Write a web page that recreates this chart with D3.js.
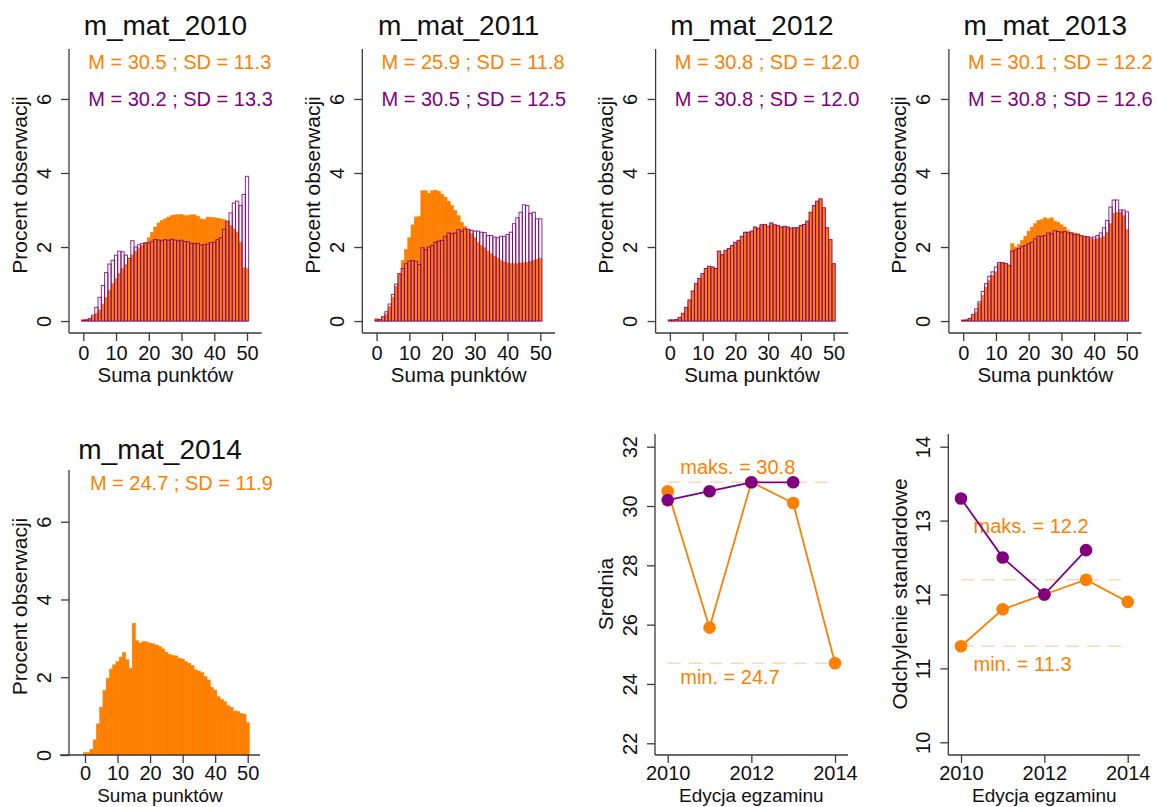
<!DOCTYPE html>
<html>
<head>
<meta charset="utf-8">
<script src="https://cdn.jsdelivr.net/npm/d3@7"></script>
<style>
  body { margin: 0; background: #ffffff; }
  svg text { font-family: "Liberation Sans", Arial, Helvetica, sans-serif; }
</style>
</head>
<body>
<svg id="chart" width="1158" height="807"></svg>
<script>
// ---- data -------------------------------------------------------------
// score bins 0..50 (Suma punktów)
const points = d3.range(0, 51);

// percent of observations per score
const orange2010 = [0.04,0.04,0.07,0.13,0.21,0.30,0.46,0.64,0.83,1.01,1.15,
  1.28,1.42,1.53,1.66,1.79,1.89,1.98,2.04,2.13,2.25,
  2.40,2.54,2.65,2.72,2.76,2.81,2.85,2.87,2.87,2.88,
  2.85,2.85,2.87,2.87,2.83,2.76,2.74,2.81,2.80,2.79,
  2.78,2.76,2.74,2.69,2.58,2.49,2.40,2.13,1.44,1.42];
const purple2010 = [0.02,0.03,0.06,0.16,0.37,0.64,0.96,1.31,1.54,1.64,1.78,
  1.89,1.87,1.78,1.69,2.17,2.00,2.06,2.09,2.11,2.11,
  2.15,2.20,2.19,2.17,2.20,2.18,2.21,2.19,2.17,2.18,
  2.15,2.14,2.10,2.09,2.10,2.05,2.07,2.08,2.12,2.13,
  2.20,2.25,2.48,2.70,2.92,3.19,3.24,3.12,3.42,3.91];
const orange2011 = [0.07,0.04,0.10,0.19,0.39,0.65,0.94,1.28,1.64,1.93,2.25,
  2.60,2.81,2.83,3.52,3.52,3.45,3.52,3.54,3.51,3.43,
  3.35,3.24,3.12,2.99,2.85,2.67,2.56,2.47,2.36,2.25,
  2.13,2.04,1.98,1.89,1.82,1.75,1.70,1.64,1.60,1.57,
  1.55,1.55,1.55,1.57,1.58,1.59,1.61,1.64,1.67,1.70];
const purple2011 = [0.03,0.04,0.12,0.25,0.46,0.72,1.00,1.28,1.42,1.55,1.62,
  1.64,1.61,1.53,1.98,1.93,2.00,2.04,2.13,2.16,2.18,
  2.29,2.38,2.36,2.38,2.47,2.43,2.49,2.48,2.45,2.43,
  2.43,2.40,2.39,2.31,2.31,2.27,2.25,2.29,2.29,2.34,
  2.40,2.63,2.79,2.94,3.14,3.12,2.91,2.94,2.76,2.76];
const orange2012 = [0.03,0.03,0.04,0.10,0.21,0.37,0.57,0.81,1.01,1.15,1.28,
  1.42,1.48,1.46,1.42,1.89,1.79,1.91,1.96,2.04,2.13,
  2.18,2.29,2.40,2.40,2.43,2.54,2.51,2.60,2.61,2.56,
  2.65,2.60,2.58,2.54,2.56,2.54,2.51,2.52,2.52,2.58,
  2.61,2.70,2.94,3.12,3.24,3.30,3.06,2.52,2.20,1.55];
const purple2012 = [0.03,0.03,0.04,0.10,0.21,0.37,0.57,0.81,1.01,1.15,1.28,
  1.42,1.48,1.46,1.42,1.89,1.79,1.91,1.96,2.04,2.13,
  2.18,2.29,2.40,2.40,2.43,2.54,2.51,2.60,2.61,2.56,
  2.65,2.60,2.58,2.54,2.56,2.54,2.51,2.52,2.52,2.58,
  2.61,2.70,2.94,3.12,3.24,3.30,3.06,2.52,2.20,1.55];
const orange2013 = [0.03,0.03,0.07,0.16,0.25,0.48,0.70,0.92,1.10,1.24,1.33,
  1.55,1.57,1.55,1.51,2.09,2.00,2.07,2.18,2.29,2.43,
  2.54,2.63,2.72,2.74,2.79,2.76,2.79,2.70,2.67,2.60,
  2.54,2.45,2.40,2.38,2.36,2.31,2.29,2.27,2.22,2.21,
  2.22,2.25,2.29,2.40,2.63,2.91,2.94,2.94,2.85,2.47];
const purple2013 = [0.02,0.03,0.07,0.18,0.33,0.52,0.80,1.01,1.21,1.33,1.46,
  1.58,1.58,1.56,1.51,1.89,1.92,1.96,2.01,2.04,2.09,
  2.13,2.22,2.29,2.29,2.31,2.38,2.36,2.44,2.42,2.40,
  2.42,2.38,2.38,2.34,2.34,2.31,2.29,2.28,2.25,2.27,
  2.31,2.38,2.52,2.72,3.08,3.27,3.27,3.00,3.00,2.95];
const orange2014 = [0.06,0.06,0.15,0.39,0.80,1.23,1.66,1.97,2.21,2.32,2.40,
  2.52,2.64,2.45,2.23,3.39,2.94,2.88,2.92,2.91,2.88,
  2.86,2.83,2.79,2.73,2.64,2.59,2.56,2.55,2.49,2.47,
  2.40,2.36,2.30,2.19,2.16,2.12,2.02,1.93,1.74,1.67,
  1.50,1.43,1.37,1.27,1.23,1.13,1.12,1.07,1.05,0.83];

// yearly summaries
const years = [2010, 2011, 2012, 2013, 2014];
const meanOrange = [30.5, 25.9, 30.8, 30.1, 24.7];
const meanPurple = [30.2, 30.5, 30.8, 30.8];
const sdOrange = [11.3, 11.8, 12.0, 12.2, 11.9];
const sdPurple = [13.3, 12.5, 12.0, 12.6];

// tick values
const histTicksX = [0, 10, 20, 30, 40, 50];
const histTicksY = [0, 2, 4, 6];
const meanTicksY = [22, 24, 26, 28, 30, 32];
const sdTicksY = [10, 11, 12, 13, 14];
const yearTicks = [2010, 2012, 2014];

// ---- drawing ----------------------------------------------------------
const ORANGE = "#ff7f00", PURPLE = "#800080", AXIS = "#3a3a3a", LIGHT = "#ffd8b0", INK = "#111111";
const TICK_PX = "20px", TITLE_PX = "20.5px", BOTTOM_TITLE_PX = "19px", YTITLE_PX = "21px",
      HEAD_PX = "28px", NOTE_PX = "20px";
const svg = d3.select("#chart");
const fmt = d3.format(".1f");
const fmtInt = d3.format("d");

function styleAxis(g) {
  g.attr("font-family", null).attr("font-size", null);
  g.select(".domain").remove();
  g.selectAll(".tick line").attr("stroke", AXIS).attr("stroke-width", 1.3);
  g.selectAll(".tick text").attr("fill", INK).style("font-size", TICK_PX);
}
function rotateYLabels(g) {
  g.selectAll(".tick text")
    .attr("transform", "rotate(-90)")
    .attr("x", 0).attr("y", -18.5).attr("dy", 0)
    .attr("text-anchor", "middle");
}
function axisLines(g, L) {
  g.append("line").attr("x1", L.axisX).attr("x2", L.axisX).attr("y1", L.yTop).attr("y2", L.xAxisY)
    .attr("stroke", AXIS).attr("stroke-width", 1.3);
  g.append("line").attr("x1", L.xLineLeft).attr("x2", L.xLineRight).attr("y1", L.xAxisY).attr("y2", L.xAxisY)
    .attr("stroke", AXIS).attr("stroke-width", 1.3);
}
function rotatedLabel(g, text, x, y) {
  g.append("text").attr("transform", `translate(${x},${y}) rotate(-90)`)
    .attr("text-anchor", "middle").attr("fill", INK).style("font-size", YTITLE_PX).text(text);
}

function histPanel(p) {
  const L = p.layout;
  const x = d3.scaleLinear().domain([0, 50]).range([L.x0, L.x50]);
  const y = d3.scaleLinear().domain(L.yDomain).range([L.xAxisY, L.yTop]);
  const g = svg.append("g");

  const barX = (d, i) => x(points[i] - 0.5);
  const barW = (d, i) => x(points[i] + 0.5) - x(points[i] - 0.5);

  g.append("g").selectAll("rect").data(p.orange).join("rect")
    .attr("x", barX).attr("width", barW)
    .attr("y", d => y(d)).attr("height", d => y(0) - y(d))
    .attr("fill", ORANGE).attr("stroke", ORANGE).attr("stroke-width", 0.5);

  if (p.purple) {
    g.append("g").selectAll("rect").data(p.purple).join("rect")
      .attr("x", barX).attr("width", barW)
      .attr("y", d => y(d)).attr("height", d => y(0) - y(d))
      .attr("fill", "none").attr("stroke", PURPLE).attr("stroke-width", 1).attr("stroke-opacity", 0.85);
  }

  axisLines(g, L);
  const ax = g.append("g").attr("transform", `translate(0,${L.xAxisY})`)
    .call(d3.axisBottom(x).tickValues(histTicksX).tickSize(8));
  styleAxis(ax);
  ax.selectAll(".tick text").attr("y", L.tickLabelY).attr("dy", 0);

  const ay = g.append("g").attr("transform", `translate(${L.axisX},0)`)
    .call(d3.axisLeft(y).tickValues(histTicksY).tickSize(8));
  styleAxis(ay);
  rotateYLabels(ay);

  const cx = (L.xLineLeft + L.xLineRight) / 2;
  g.append("text").attr("x", cx).attr("y", L.titleY).attr("text-anchor", "middle")
    .attr("fill", INK).style("font-size", HEAD_PX).text(p.title);
  g.append("text").attr("x", cx).attr("y", L.xAxisY + L.xTitleDy).attr("text-anchor", "middle")
    .attr("fill", INK).style("font-size", L.xTitlePx).text("Suma punktów");
  rotatedLabel(g, "Procent obserwacji", L.axisX - 42.5, (L.yTop + L.xAxisY) / 2 - 6);

  g.append("text").attr("x", x(1.5)).attr("y", y(7) + 7)
    .attr("fill", ORANGE).style("font-size", NOTE_PX)
    .text(`M = ${fmt(p.mO)} ; SD = ${fmt(p.sO)}`);
  if (p.purple) {
    g.append("text").attr("x", x(1.5)).attr("y", y(6) + 7)
      .attr("fill", PURPLE).style("font-size", NOTE_PX)
      .text(`M = ${fmt(p.mP)} ; SD = ${fmt(p.sP)}`);
  }
}

const colStep = 293.3;
const histOrange = [orange2010, orange2011, orange2012, orange2013];
const histPurple = [purple2010, purple2011, purple2012, purple2013];
histOrange.forEach((arr, c) => {
  const dx = c * colStep;
  histPanel({
    title: "m_mat_" + years[c],
    orange: arr, purple: histPurple[c],
    mO: meanOrange[c], sO: sdOrange[c], mP: meanPurple[c], sP: sdPurple[c],
    layout: {
      axisX: 69 + dx, x0: 83.3 + dx, x50: 247 + dx,
      xLineLeft: 69 + dx, xLineRight: 261.7 + dx,
      yTop: 49, xAxisY: 333, yDomain: [-0.323, 7.35],
      tickLabelY: 27, xTitleDy: 48.5, xTitlePx: TITLE_PX, titleY: 35
    }
  });
});

histPanel({
  title: "m_mat_" + years[4],
  orange: orange2014, purple: null,
  mO: meanOrange[4], sO: sdOrange[4],
  layout: {
    axisX: 69, x0: 85, x50: 247.7,
    xLineLeft: 60, xLineRight: 260,
    yTop: 470, xAxisY: 755, yDomain: [0, 7.33],
    tickLabelY: 24.5, xTitleDy: 47, xTitlePx: BOTTOM_TITLE_PX, titleY: 459
  }
});

function linePanel(p) {
  const L = p.layout;
  const x = d3.scaleLinear().domain([2010, 2014]).range([L.x2010, L.x2014]);
  const y = d3.scaleLinear().domain(L.yDomain).range([L.xAxisY, L.yTop]);
  const g = svg.append("g");

  const lo = d3.min(p.orange), hi = d3.max(p.orange);
  [hi, lo].forEach(v => {
    g.append("line").attr("x1", x(2010)).attr("x2", x(2014)).attr("y1", y(v)).attr("y2", y(v))
      .attr("stroke", LIGHT).attr("stroke-width", 1.4).attr("stroke-dasharray", "13,8");
  });
  g.append("text").attr("x", x(2010.3)).attr("y", y(hi) + L.maxDy)
    .attr("fill", ORANGE).style("font-size", NOTE_PX).text(`maks. = ${fmt(hi)}`);
  g.append("text").attr("x", x(2010.3)).attr("y", y(lo) + L.minDy)
    .attr("fill", ORANGE).style("font-size", NOTE_PX).text(`min. = ${fmt(lo)}`);

  const line = d3.line().x((d, i) => x(years[i])).y(d => y(d));
  [[p.orange, ORANGE], [p.purple, PURPLE]].forEach(([vals, col]) => {
    g.append("path").datum(vals).attr("d", line)
      .attr("fill", "none").attr("stroke", col).attr("stroke-width", 1.8);
    g.append("g").selectAll("circle").data(vals).join("circle")
      .attr("cx", (d, i) => x(years[i])).attr("cy", d => y(d)).attr("r", 6.3)
      .attr("fill", col);
  });

  axisLines(g, L);
  const ax = g.append("g").attr("transform", `translate(0,${L.xAxisY})`)
    .call(d3.axisBottom(x).tickValues(yearTicks).tickFormat(fmtInt).tickSize(8));
  styleAxis(ax);
  ax.selectAll(".tick text").attr("y", 24.5).attr("dy", 0);

  const ay = g.append("g").attr("transform", `translate(${L.axisX},0)`)
    .call(d3.axisLeft(y).tickValues(p.ticks).tickFormat(fmtInt).tickSize(8));
  styleAxis(ay);
  rotateYLabels(ay);

  g.append("text").attr("x", x(2012)).attr("y", L.xAxisY + 47).attr("text-anchor", "middle")
    .attr("fill", INK).style("font-size", BOTTOM_TITLE_PX).text("Edycja egzaminu");
  rotatedLabel(g, p.yTitle, L.axisX - 41.7, 594);
}

linePanel({
  orange: meanOrange, purple: meanPurple, ticks: meanTicksY, yTitle: "Srednia",
  layout: {
    axisX: 655, x2010: 667.7, x2014: 835, xLineLeft: 655, xLineRight: 848,
    yTop: 434, xAxisY: 755, yDomain: [21.605, 32.428], maxDy: -8.3, minDy: 21
  }
});
linePanel({
  orange: sdOrange, purple: sdPurple, ticks: sdTicksY, yTitle: "Odchylenie standardowe",
  layout: {
    axisX: 948.3, x2010: 961, x2014: 1127.7, xLineLeft: 948.3, xLineRight: 1140,
    yTop: 434, xAxisY: 755, yDomain: [9.828, 14.172], maxDy: -47, minDy: 25
  }
});
</script>
</body>
</html>
